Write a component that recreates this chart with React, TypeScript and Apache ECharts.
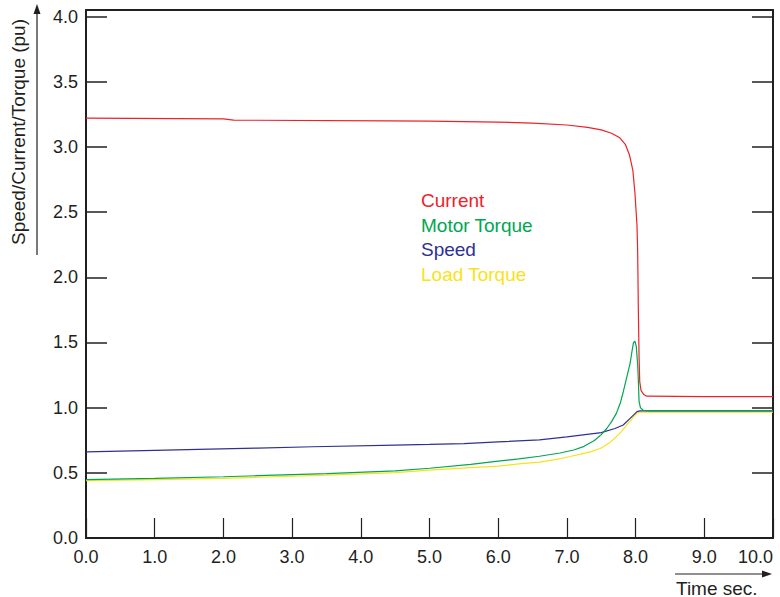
import React, { useEffect, useRef } from "react";
import * as echarts from "echarts";

const legendNames = ["Current", "Motor Torque", "Speed", "Load Torque"];
const seriesColors = ["#ee2129", "#00a650", "#2e3192", "#f9e21a"];

const xTicks = [0, 1, 2, 3, 4, 5, 6, 7, 8, 9, 10];
const yTicks = [0, 0.5, 1, 1.5, 2, 2.5, 3, 3.5, 4];

const currentData: [number, number][] = [
  [0, 3.22], [2.0, 3.215], [2.15, 3.205], [4.4, 3.2], [5.0, 3.197], [6.0, 3.19],
  [6.5, 3.183], [7.0, 3.168], [7.3, 3.15], [7.5, 3.13], [7.65, 3.105], [7.77, 3.07],
  [7.85, 3.02], [7.91, 2.94], [7.96, 2.82], [7.99, 2.65], [8.02, 2.4], [8.03, 2.2],
  [8.04, 1.75], [8.05, 1.4], [8.06, 1.2], [8.08, 1.13], [8.12, 1.1], [8.16, 1.088],
  [9.0, 1.085], [10.0, 1.085],
];

const motorTorqueData: [number, number][] = [
  [0, 0.448], [1, 0.458], [2, 0.47], [2.5, 0.478], [3.5, 0.494], [4.5, 0.515],
  [5.0, 0.535], [5.6, 0.565], [6.0, 0.59], [6.3, 0.607], [6.6, 0.627], [6.9, 0.652],
  [7.1, 0.675], [7.25, 0.703], [7.4, 0.748], [7.5, 0.793], [7.58, 0.84], [7.65, 0.893],
  [7.72, 0.956], [7.78, 1.04], [7.82, 1.12], [7.87, 1.23], [7.92, 1.34], [7.95, 1.44],
  [7.97, 1.5], [7.99, 1.51], [8.01, 1.47], [8.03, 1.33], [8.04, 1.21], [8.05, 1.05],
  [8.07, 1.0], [8.11, 0.98], [8.2, 0.975], [10.0, 0.975],
];

const speedData: [number, number][] = [
  [0, 0.66], [1, 0.672], [1.8, 0.682], [2.5, 0.69], [3.3, 0.7], [4.5, 0.713],
  [5.0, 0.718], [5.5, 0.724], [6.0, 0.737], [6.6, 0.752], [7.0, 0.775], [7.5, 0.808],
  [7.7, 0.84], [7.82, 0.867], [7.92, 0.918], [8.02, 0.969], [8.06, 0.975], [10.0, 0.975],
];

const loadTorqueData: [number, number][] = [
  [0, 0.44], [1, 0.448], [2, 0.458], [2.5, 0.466], [3.5, 0.483], [4.5, 0.502],
  [5.0, 0.52], [5.6, 0.54], [6.0, 0.552], [6.3, 0.568], [6.6, 0.582], [6.85, 0.603],
  [7.05, 0.625], [7.2, 0.643], [7.35, 0.663], [7.5, 0.69], [7.62, 0.73], [7.72, 0.777],
  [7.8, 0.82], [7.87, 0.867], [7.95, 0.915], [8.02, 0.958], [8.06, 0.965], [10.0, 0.965],
];

const allData = [currentData, motorTorqueData, speedData, loadTorqueData];

const FONT = "'Liberation Sans', Arial, Helvetica, sans-serif";
const INK = "#231f20";

export default function App() {
  const ref = useRef<HTMLDivElement>(null);

  useEffect(() => {
    if (!ref.current) return;
    const chart = echarts.init(ref.current, undefined, { renderer: "svg" });

    const axisLine = { show: true, onZero: false, lineStyle: { color: INK, width: 2 } };

    chart.setOption({
      animation: false,
      backgroundColor: "#ffffff",
      textStyle: { fontFamily: FONT },
      grid: { left: 86, right: 7, top: 10, bottom: 59, containLabel: false, outerBoundsMode: "none" },
      legend: {
        show: true,
        orient: "vertical",
        left: 416,
        top: 191,
        padding: 0,
        itemGap: 5.5,
        itemWidth: 0,
        itemHeight: 0,
        icon: "rect",
        selectedMode: false,
        data: legendNames.map((n, i) => ({
          name: n,
          itemStyle: { opacity: 0 },
          textStyle: { color: seriesColors[i], fontSize: 19, fontFamily: FONT, lineHeight: 19 },
        })),
      },
      xAxis: [
        {
          type: "value",
          position: "bottom",
          min: xTicks[0],
          max: xTicks[xTicks.length - 1],
          interval: 1,
          axisLine,
          axisTick: { show: true, inside: true, length: 20, lineStyle: { color: INK, width: 1.2 } },
          axisLabel: {
            show: true,
            color: INK,
            fontSize: 18,
            fontFamily: FONT,
            margin: 10,
            alignMaxLabel: "right",
            formatter: (v: number) => v.toFixed(1),
          },
          splitLine: { show: false },
        },
        {
          type: "value",
          position: "top",
          min: xTicks[0],
          max: xTicks[xTicks.length - 1],
          interval: 1,
          axisLine,
          axisTick: { show: false },
          axisLabel: { show: false },
          splitLine: { show: false },
        },
      ],
      yAxis: [
        {
          type: "value",
          position: "left",
          min: yTicks[0],
          max: 4.05,
          interval: 0.5,
          axisLine,
          axisTick: { show: true, inside: true, length: 21, lineStyle: { color: INK, width: 1.5 } },
          axisLabel: {
            show: true,
            color: INK,
            fontSize: 18,
            fontFamily: FONT,
            margin: 8,
            showMaxLabel: false,
            formatter: (v: number) => (yTicks.indexOf(v) >= 0 ? v.toFixed(1) : ""),
          },
          splitLine: { show: false },
        },
        {
          type: "value",
          position: "right",
          min: yTicks[0],
          max: 4.05,
          interval: 0.5,
          axisLine,
          axisTick: { show: true, inside: true, length: 21, lineStyle: { color: INK, width: 1.5 } },
          axisLabel: { show: false },
          splitLine: { show: false },
        },
      ],
      series: legendNames.map((n, i) => ({
        name: n,
        type: "line",
        xAxisIndex: 0,
        yAxisIndex: 0,
        data: allData[i],
        showSymbol: false,
        symbol: "none",
        lineStyle: { color: seriesColors[i], width: 1.2 },
        itemStyle: { color: seriesColors[i] },
        z: 10 - i,
      })),
      graphic: [
        {
          type: "text",
          x: 18,
          y: 132,
          rotation: Math.PI / 2,
          style: {
            text: "Speed/Current/Torque (pu)",
            fill: INK,
            font: `19px ${FONT}`,
            textAlign: "center",
            textVerticalAlign: "middle",
          },
        },
        {
          type: "line",
          shape: { x1: 37, y1: 255, x2: 37, y2: 12 },
          style: { stroke: INK, lineWidth: 1.2 },
        },
        {
          type: "polygon",
          shape: { points: [[37, 4], [33.5, 14], [40.5, 14]] },
          style: { fill: INK },
        },
        {
          type: "text",
          x: 676,
          y: 588,
          style: {
            text: "Time sec.",
            fill: INK,
            font: `19px ${FONT}`,
            textAlign: "left",
            textVerticalAlign: "middle",
          },
        },
        {
          type: "line",
          shape: { x1: 675, y1: 574, x2: 764, y2: 574 },
          style: { stroke: INK, lineWidth: 1.2 },
        },
        {
          type: "polygon",
          shape: { points: [[772, 574], [762, 570.5], [762, 577.5]] },
          style: { fill: INK },
        },
      ],
    });

    return () => chart.dispose();
  }, []);

  return <div ref={ref} style={{ width: 780, height: 597, position: "absolute", left: 0, top: 0 }} />;
}
